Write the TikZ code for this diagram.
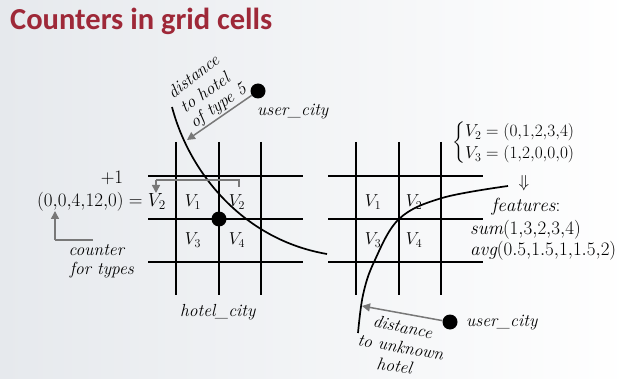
\documentclass[tikz,border=0pt]{standalone}
\usepackage{fontspec}
\usepackage{amsmath}
\newfontfamily\titlefont{Carlito}
\usetikzlibrary{arrows.meta}
\definecolor{titlered}{RGB}{158,40,56}
\definecolor{bgA}{RGB}{230,233,237}
\definecolor{arrgray}{RGB}{120,120,120}
\tikzset{
  gridline/.style={line width=1.7pt, black},
  curveline/.style={line width=1.7pt, black},
  garrow/.style={line width=1.5pt, arrgray, -{Triangle[length=8pt,width=8pt]}},
  gline/.style={line width=1.5pt, arrgray},
  lbl/.style={font=\fontsize{17.5}{20}\selectfont, inner sep=0pt},
  biglbl/.style={font=\fontsize{17.28}{20}\selectfont, inner sep=0pt, scale=1.1},
  dot/.style={circle, fill=black, minimum size=15pt, inner sep=0pt},
}
\begin{document}
\begin{tikzpicture}[x=1pt,y=-1pt]
\useasboundingbox (0,0) rectangle (631,379);
\shade[left color=bgA, right color=white] (0,0) rectangle (631,379);
% title
\node[anchor=west, inner sep=0pt, text=titlered, font=\titlefont\bfseries\fontsize{30.5}{32}\selectfont] (title) at (10,21) {Counters in grid cells};

% left grid
\foreach \x/\n in {176/a,219/b,261/c} \draw[gridline] (\x,142) coordinate (lv\n t) -- (\x,295) coordinate (lv\n b);
\foreach \y/\n in {176/a,219/b,262/c} \draw[gridline] (148,\y) coordinate (lh\n l) -- (303,\y) coordinate (lh\n r);
% right grid
\foreach \x/\n in {356/a,399/b,441/c} \draw[gridline] (\x,142) coordinate (rv\n t) -- (\x,295) coordinate (rv\n b);
\foreach \y/\n in {176/a,219/b,262/c} \draw[gridline] (328,\y) coordinate (rh\n l) -- (483,\y) coordinate (rh\n r);

% curves
\coordinate (lc0) at (172,107);
\coordinate (lc1) at (327,254);
\draw[curveline] (lc0) .. controls (190,175) and (245,240) .. (lc1);
\draw[curveline] plot[smooth, tension=0.6] coordinates {(358,333) (363,295) (374,262) (399,219) (442,198) (508,186)};

% dots
\node[dot] (hotel) at (219,219) {};
\node[dot] (user1) at (258,91) {};
\node[dot] (user2) at (450,322) {};
\coordinate (a1end) at (187,140);
\coordinate (a2end) at (362,306);
\draw[garrow] (user1) -- (a1end);
\draw[garrow] (user2) -- (a2end);

\node[lbl] (uc1) at (293,112) {\textit{user\_city}};
\node[lbl] (uc2) at (502,323) {\textit{user\_city}};
\node[lbl] (hc) at (218,312) {\textit{hotel\_city}};

% rotated texts top
\node[lbl, rotate=38] (d1) at (193,76) {\textit{distance}};
\node[lbl, rotate=35] (d2) at (205,92) {\textit{to hotel}};
\node[lbl, rotate=35] (d3) at (219,106) {\textit{of type 5}};
% rotated texts bottom
\node[lbl, rotate=-12] (b1) at (403,327) {\textit{distance}};
\node[lbl, rotate=-10] (b2) at (401,347) {\textit{to unknown}};
\node[lbl, rotate=-8] (b3) at (395,366) {\textit{hotel}};

% left grid labels
\node[lbl] (lV1) at (193,202) {$V_1$};
\node[lbl] (lV2) at (237,202) {$V_2$};
\node[lbl] (lV3) at (193,240) {$V_3$};
\node[lbl] (lV4) at (237,240) {$V_4$};
% right grid labels
\node[lbl] (rV1) at (373,202) {$V_1$};
\node[lbl] (rV2) at (414,202) {$V_2$};
\node[lbl] (rV3) at (373,240) {$V_3$};
\node[lbl] (rV4) at (414,240) {$V_4$};

% counter equation
\node[biglbl, anchor=east] (eq) at (166,202) {$(0{,}0{,}4{,}12{,}0) = V_2$};
\node[biglbl] (plus) at (112,178) {$+1$};
\coordinate (br1) at (239,187);
\coordinate (br2) at (239,180);
\coordinate (br3) at (156,180);
\coordinate (br4) at (156,193);
\draw[gline] (br1) -- (br2) -- (br3);
\draw[garrow] (br3) -- (br4);
\coordinate (cn1) at (93,240);
\coordinate (cn2) at (55,240);
\coordinate (cn3) at (55,211);
\draw[gline] (cn1) -- (cn2);
\draw[garrow] (cn2) -- (cn3);
\node[lbl] (counter) at (97,250) {\textit{counter}};
\node[lbl] (fortypes) at (102,270) {\textit{for types}};

% right text
\node[lbl, anchor=west] (vv) at (452,143) {$\begin{cases} V_2 = (0{,}1{,}2{,}3{,}4)\\[-2pt] V_3 = (1{,}2{,}0{,}0{,}0)\end{cases}$};
\node[lbl] (darr) at (524,183) {$\Downarrow$};
\node[biglbl] (feat) at (526,207) {$\mathit{features}$:};
\node[biglbl, anchor=west] (sum) at (470,230) {$\mathit{sum}(1{,}3{,}2{,}3{,}4)$};
\node[biglbl, anchor=west] (avg) at (470,251) {$\mathit{avg}(0.5{,}1.5{,}1{,}1.5{,}2)$};
\end{tikzpicture}
\end{document}
